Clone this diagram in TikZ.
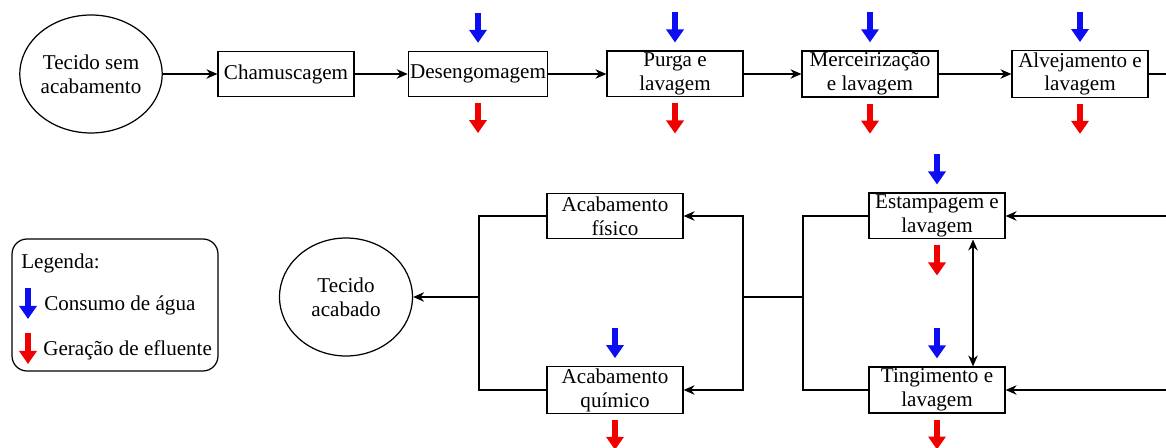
\documentclass[tikz,border=0pt]{standalone}
\usepackage{fontspec}
\setmainfont{Liberation Serif}
\newfontfamily\timesfam{Liberation Serif}
\usetikzlibrary{arrows.meta,positioning,calc,shapes.geometric}
\definecolor{waterblue}{rgb}{0.05,0.05,0.95}
\definecolor{efflred}{rgb}{0.95,0.00,0.00}
\tikzset{
  flow/.style={-{Stealth[length=2.2mm,width=1.9mm]},line width=0.7pt},
  both/.style={{Stealth[length=2.2mm,width=1.9mm]}-{Stealth[length=2.2mm,width=1.9mm]},line width=0.7pt},
  plain/.style={line width=0.7pt},
  procbox/.style={draw,line width=0.7pt,minimum width=2.72cm,minimum height=0.9cm,inner sep=1pt,align=center},
  fabric/.style={draw,ellipse,line width=0.7pt,minimum width=2.66cm,minimum height=2.36cm,inner sep=0pt,align=center},
  legendbox/.style={draw,rounded corners=0.3cm,line width=0.7pt,minimum width=4.12cm,minimum height=2.64cm},
  legtext/.style={anchor=west,inner sep=0pt},
  waterin/.style={waterblue,line width=0.13cm,-{Triangle[length=0.26cm,width=0.34cm]}},
  effluent/.style={efflred,line width=0.13cm,-{Triangle[length=0.26cm,width=0.34cm]}},
}

\begin{document}
\begin{tikzpicture}[x=0.02cm,y=-0.02cm,font=\timesfam\fontsize{12}{13.6}\selectfont]
  \useasboundingbox (0,0) rectangle (1166,448);
  % linha de cima
  \node[fabric]  (cru)    at (91,74)   {Tecido sem\\acabamento};
  \node[procbox] (cham)   at (286,74)  {Chamuscagem};
  \node[procbox] (deseng) at (478,74)  {Desengomagem};
  \node[procbox] (purga)  at (675,74)  {Purga e\\lavagem};
  \node[procbox] (merc)   at (870,74)  {Merceirização\\e lavagem};
  \node[procbox] (alv)    at (1080,74) {Alvejamento e\\lavagem};
  \coordinate (saida) at (1166,74);
  \draw[flow] (cru) -- (cham);
  \draw[flow] (cham) -- (deseng);
  \draw[flow] (deseng) -- (purga);
  \draw[flow] (purga) -- (merc);
  \draw[flow] (merc) -- (alv);
  \draw[plain] (alv.east) -- (saida);
  % linha de baixo
  \node[procbox] (estamp) at (937,216) {Estampagem e\\lavagem};
  \node[procbox] (ting)   at (937,390) {Tingimento e\\lavagem};
  \node[procbox] (fis)    at (615,216) {Acabamento\\físico};
  \node[procbox] (quim)   at (615,390) {Acabamento\\químico};
  \node[fabric]  (pronto) at (346,297) {Tecido\\acabado};
  \coordinate (entA) at (1166,216);
  \coordinate (entB) at (1166,390);
  \coordinate (juntaR) at (803,297);
  \coordinate (divide) at (743,297);
  \coordinate (juntaL) at (479,297);
  \draw[flow] (entA) -- (estamp.east);
  \draw[flow] (entB) -- (ting.east);
  \draw[both] ($(estamp.south)+(36,0)$) -- ($(ting.north)+(36,0)$);
  \draw[plain] (estamp.west) -| (juntaR) |- (ting.west);
  \draw[plain] (juntaR) -- (divide);
  \draw[flow] (divide) |- (fis.east);
  \draw[flow] (divide) |- (quim.east);
  \draw[plain] (fis.west) -| (juntaL) |- (quim.west);
  \draw[flow] (juntaL) -- (pronto.east);
  % agua e efluente
  \foreach \b in {deseng,purga,merc,alv,estamp,ting,quim}{
    \draw[waterin]  ($(\b.north)+(0,-38)$) -- ($(\b.north)+(0,-8)$);
    \draw[effluent] ($(\b.south)+(0,6)$) -- ($(\b.south)+(0,36)$);
  }
  % legenda
  \node[legendbox] (leg) at (115,305) {};
  \node[legtext] (legtit) at (21,263) {Legenda:};
  \node[legtext] (legagua) at (44,305) {Consumo de água};
  \node[legtext] (legefl) at (43,350) {Geração de efluente};
  \draw[waterin]  (28,288) -- (28,319);
  \draw[effluent] (28,333) -- (28,364);
\end{tikzpicture}
\end{document}
